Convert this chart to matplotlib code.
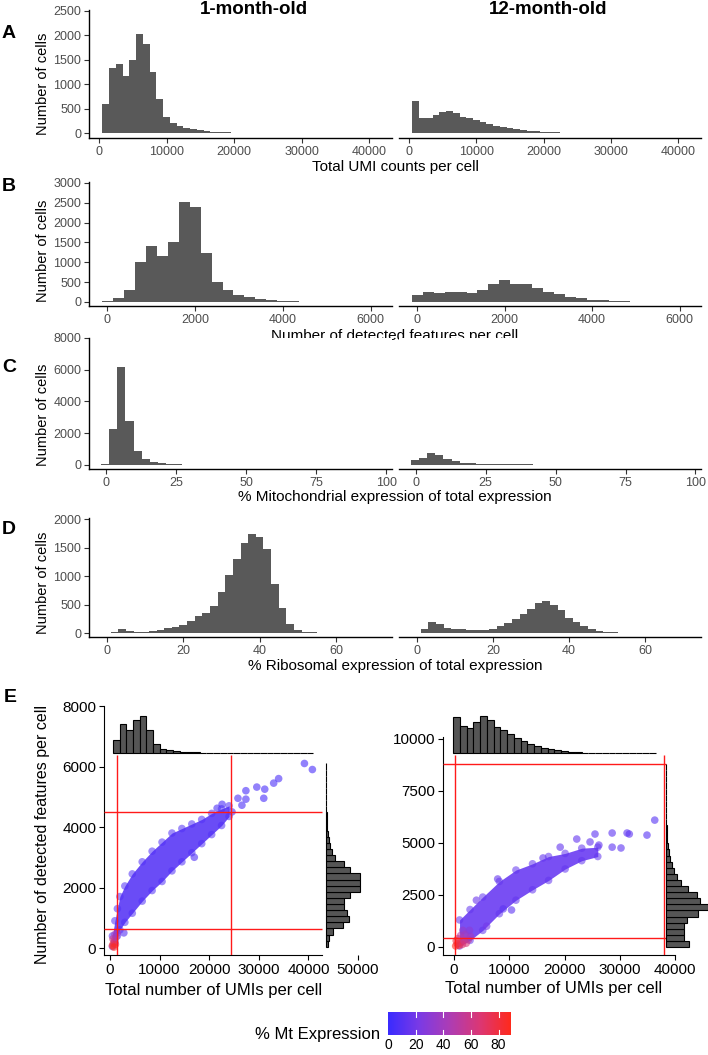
import numpy as np
import matplotlib
matplotlib.use('Agg')
import matplotlib.pyplot as plt
from matplotlib.colors import LinearSegmentedColormap, Normalize

plt.rcParams['font.family'] = ['Liberation Sans', 'DejaVu Sans']

W, H = 708, 1055

# ---------------- histogram counts (A-D) ----------------
# A: total UMI counts, binwidth 1000 starting at 500
umi_bw, umi_start = 1000, 500
umi_1m = [600, 1340, 1420, 1170, 1490, 2020, 1830, 1260, 690, 330, 200, 140, 110, 90,
          68, 48, 30, 20, 14, 10, 8, 6, 5, 4, 3, 3, 2, 2, 2, 2, 1, 1, 1, 1, 1, 1, 1, 1, 1, 1]
umi_12m = [660, 307, 307, 375, 423, 457, 410, 320, 307, 273, 225, 191, 150, 123, 96, 75,
           61, 48, 34, 24, 16, 11, 8, 6, 5, 4, 3, 2, 2, 2, 1, 1, 1, 1, 1, 1]

# B: detected features, binwidth 250 starting at -125
feat_bw, feat_start = 250, -125
feat_1m = [15, 110, 296, 1014, 1411, 1158, 1513, 2519, 2392, 1243, 507, 313, 186, 127,
           76, 42, 28, 18, 12, 9, 7, 6, 5, 4, 4, 3]
feat_12m = [169, 254, 228, 245, 245, 228, 313, 465, 550, 465, 465, 355, 254, 194, 127,
            110, 59, 42, 22, 14, 9, 7, 5, 4, 3, 3]

# C: % mitochondrial, binwidth 2.9 starting at -1.7
mt_bw, mt_start = 2.9, -1.7
mt_1m = [60, 2260, 6160, 2770, 880, 350, 165, 100, 60, 40, 30, 25, 20, 15, 12, 10, 8, 6,
         5, 5, 4, 4, 3, 3, 3, 2, 2, 2, 2, 1, 1, 1, 1, 1, 1]
mt_12m = [330, 420, 760, 640, 380, 230, 150, 110, 80, 60, 50, 45, 40, 35, 32, 30, 28, 26,
          24, 22, 20, 20, 18, 18, 17, 16, 15, 15, 14, 13, 12, 12, 11, 10, 10]

# D: % ribosomal, binwidth 2 starting at 1
ribo_bw, ribo_start = 2, 1
ribo_1m = [23, 64, 35, 18, 18, 29, 59, 88, 105, 146, 205, 293, 351, 469, 720, 1013, 1306,
           1582, 1746, 1687, 1482, 867, 445, 164, 59, 23, 10, 5, 3, 2]
ribo_12m = [76, 193, 152, 94, 64, 64, 47, 47, 53, 64, 117, 176, 252, 340, 428, 530, 557,
            486, 410, 270, 193, 129, 76, 35, 18, 10, 5]

# ---------------- panel E ----------------
# 1-month: dense band (lower / upper edge of the point cloud)
e1_band_umi = [500, 1000, 1500, 2000, 3000, 4500, 6500, 8500, 10500, 12500, 14500, 16500,
               18500, 20500, 22500, 24000]
e1_band_low = [50, 200, 400, 600, 850, 1150, 1550, 1900, 2200, 2550, 2850, 3150, 3450,
               3750, 4050, 4350]
e1_band_high = [400, 900, 1300, 1700, 2050, 2450, 2850, 3200, 3500, 3800, 3950, 4100,
                4250, 4450, 4600, 4700]
e1_pts_umi = [39200, 40800, 34000, 33000, 31200, 31000, 29600, 27400, 27400, 25800, 26600,
              24600, 22600, 21600, 17000, 2800, 500, 700, 900, 600, 1100, 800, 1200, 1500, 1000]
e1_pts_feat = [6100, 5900, 5600, 5450, 5250, 4950, 5320, 5200, 4920, 4950, 4720,
               4500, 4750, 4620, 3000, 500, 80, 150, 250, 300, 120, 30, 350, 500, 450]
e1_pts_mt = [5, 5, 6, 6, 5, 5, 6, 5, 6, 7, 6, 8, 6, 7, 8, 10, 85, 80, 70, 60, 75, 88, 50, 35, 40]
e1_top_counts = [1330, 2870, 2270, 3330, 3670, 2270, 930, 430, 270, 200, 130, 100, 70, 50,
                 40, 30, 25, 20, 15, 12, 10, 8, 7, 6, 5, 4, 3, 3, 2, 2]
e1_top_start, e1_top_bw = 600, 1347
e1_side_counts = [150, 300, 700, 1700, 2270, 2100, 1830, 1770, 2370, 3370, 3430, 3370, 2430,
                  1770, 930, 600, 430, 270, 170, 100, 70, 50, 40, 30, 30, 20, 20, 20, 20, 20]
e1_side_start, e1_side_bw = 40, 202
e1_cut_umi = [1400, 24400]
e1_cut_feat = [630, 4500]

# 12-month
e12_band_umi = [1000, 2900, 5200, 8200, 11200, 14200, 17100, 20100, 23100, 26000]
e12_band_low = [50, 320, 800, 1600, 2250, 2750, 3200, 3750, 4150, 4350]
e12_band_high = [1300, 1800, 2400, 3150, 3700, 4000, 4350, 4500, 4750, 4800]
e12_pts_umi = [36300, 34900, 31700, 31300, 28600, 25500, 22200, 28600, 30200, 26200, 24600,
               19200, 16100, 7900, 8900, 10400, 5900, 4050,
               300, 600, 900, 1200, 1500, 1800, 2200, 2600, 700, 1200, 400, 2000, 3000, 1600, 2800]
e12_pts_feat = [6100, 5380, 5430, 5480, 5480, 5430, 5190, 4800, 4760, 4900, 5050,
                4800, 4280, 3270, 1830, 1780, 1000, 2250,
                50, 150, 80, 200, 120, 300, 180, 350, 400, 550, 300, 600, 500, 800, 800]
e12_pts_mt = [10, 10, 12, 12, 12, 12, 14, 12, 12, 14, 14, 14, 14, 15, 12, 12, 20, 18,
              88, 85, 80, 75, 70, 60, 65, 55, 70, 50, 80, 45, 40, 35, 30]
e12_top_counts = [3600, 2670, 2530, 3100, 3670, 3330, 2600, 2270, 1930, 1530, 1200, 930, 730,
                  500, 370, 270, 170, 100, 60, 50, 40, 30, 30, 20, 20, 20, 20, 10, 10, 10]
e12_top_start, e12_top_bw = -180, 1223
e12_side_counts = [2300, 1830, 1830, 1830, 2070, 3230, 4170, 3400, 3070, 2230, 1470, 1070,
                   800, 570, 400, 330, 230, 130, 80, 60, 40, 30, 20, 20, 10, 10, 10, 10, 10, 10]
e12_side_start, e12_side_bw = 0, 293
e12_cut_umi = [100, 38000]
e12_cut_feat = [430, 8800]

mt_ticks = [0, 20, 40, 60, 80]

cmap = LinearSegmentedColormap.from_list(
    'mt', ['#3a2bff', '#7a3ae6', '#ad3db5', '#dc3774', '#ff2a1c'])
norm = Normalize(0, 89)

fig = plt.figure(figsize=(W / 100, H / 100), dpi=100)


def px_axes(x0, y0, x1, y1):
    return fig.add_axes([x0 / W, 1 - y1 / H, (x1 - x0) / W, (y1 - y0) / H])


def hist_pair(top, bot, ylim, yticks, xlim, xticks, bw, start, c1, c12,
              xlabel, xlab_y, ylab_y, letter, letter_y):
    for x0, x1, counts, left in [(89, 392, c1, True), (399, 701, c12, False)]:
        ax = px_axes(x0, top, x1, bot)
        edges = start + bw * np.arange(len(counts) + 1)
        ax.stairs(counts, edges, fill=True, color='#595959', lw=0)
        ax.set_xlim(*xlim)
        ax.set_ylim(*ylim)
        ax.set_xticks(xticks)
        ax.spines['top'].set_visible(False)
        ax.spines['right'].set_visible(False)
        ax.spines['bottom'].set_linewidth(1.0)
        ax.tick_params(colors='#333333', labelcolor='#4d4d4d', labelsize=9,
                       length=3.5, width=0.8, pad=2)
        if left:
            ax.set_yticks(yticks)
            ax.spines['left'].set_linewidth(1.0)
            axl = ax
        else:
            ax.spines['left'].set_visible(False)
            ax.set_yticks([])
    axl.text(395 / W, 1 - xlab_y / H, xlabel, transform=fig.transFigure,
             ha='center', va='center', fontsize=11)
    fig.text(43 / W, 1 - ylab_y / H, 'Number of cells', rotation=90,
             ha='center', va='center', fontsize=10.5)
    fig.text(9 / W, 1 - letter_y / H, letter, ha='center', va='center',
             fontsize=14, fontweight='bold')


hist_pair(10, 138, (-102, 2520), range(0, 2501, 500), (-1500, 43400),
          range(0, 40001, 10000), umi_bw, umi_start, umi_1m, umi_12m,
          'Total UMI counts per cell', 167, 84, 'A', 33)
hist_pair(182, 306, (-101, 3025), range(0, 3001, 500), (-420, 6490),
          [0, 2000, 4000, 6000], feat_bw, feat_start, feat_1m, feat_12m,
          'Number of detected features per cell', 336, 251, 'B', 187)
hist_pair(338, 469, (-252, 8000), range(0, 8001, 2000), (-6, 102),
          [0, 25, 50, 75, 100], mt_bw, mt_start, mt_1m, mt_12m,
          '% Mitochondrial expression of total expression', 497, 415, 'C', 368)
hist_pair(518, 637, (-70, 2018), range(0, 2001, 500), (-4.7, 74.7),
          [0, 20, 40, 60], ribo_bw, ribo_start, ribo_1m, ribo_12m,
          '% Ribosomal expression of total expression', 666, 583, 'D', 529)

fig.text(254 / W, 1 - 9 / H, '1-month-old', ha='center', va='center',
         fontsize=13.5, fontweight='bold')
fig.text(548 / W, 1 - 9 / H, '12-month-old', ha='center', va='center',
         fontsize=13.5, fontweight='bold')


def scatter_panel(box, xlim, ylim, xticks, yticks, spine_xmax, panel_xmax, panel_ymax,
                  band_x, band_lo, band_hi, band_col, edge_mt, px, py, pmt, cut_x, cut_y):
    ax = px_axes(*box)
    ax.patch.set_alpha(0)
    ax.fill_between(band_x, band_lo, band_hi, color=band_col, lw=0, alpha=0.9, zorder=1)
    ax.scatter(band_x + band_x, band_lo + band_hi, c=[edge_mt] * (2 * len(band_x)),
               cmap=cmap, norm=norm, s=30, alpha=0.55, lw=0, zorder=2)
    ax.scatter(px, py, c=pmt, cmap=cmap, norm=norm, s=30, alpha=0.6, lw=0, zorder=3)
    ax.vlines(cut_x, ylim[0], panel_ymax, color='#ff1a1a', lw=1.0, zorder=4)
    ax.hlines(cut_y, xlim[0], panel_xmax, color='#ff1a1a', lw=1.0, zorder=4)
    ax.set_xlim(*xlim)
    ax.set_ylim(*ylim)
    ax.set_xticks(xticks)
    ax.set_yticks(yticks)
    ax.spines['top'].set_visible(False)
    ax.spines['right'].set_visible(False)
    ax.spines['bottom'].set_bounds(xlim[0], spine_xmax)
    ax.tick_params(colors='black', labelsize=11, length=3.5, width=0.8, pad=2)
    return ax


def top_margin(x0, x1, xlim, start, bw, counts):
    ax = px_axes(x0, 712, x1, 753)
    edges = start + bw * np.arange(len(counts))
    ax.bar(edges, counts, width=bw, align='edge', color='#555555', edgecolor='black',
           lw=0.8, clip_on=False)
    ax.set_xlim(*xlim)
    ax.set_ylim(0, 4100)
    ax.axis('off')


def side_margin(x0, x1, y0, y1, ylim, start, bw, counts):
    ax = px_axes(x0, y0, x1, y1)
    edges = start + bw * np.arange(len(counts))
    ax.barh(edges, counts, height=bw, align='edge', color='#555555', edgecolor='black',
            lw=0.8, clip_on=False)
    ax.set_xlim(0, 4200)
    ax.set_ylim(*ylim)
    ax.axis('off')


xl1, yl1 = (-1200, 50400), (-231, 8000)
scatter_panel((104, 706, 360, 955), xl1, yl1, range(0, 50001, 10000), range(0, 8001, 2000),
              42800, 42800, 6380, e1_band_umi, e1_band_low, e1_band_high, '#5a38f6', 8,
              e1_pts_umi, e1_pts_feat, e1_pts_mt, e1_cut_umi, e1_cut_feat)
top_margin(104, 360, xl1, e1_top_start, e1_top_bw, e1_top_counts)
side_margin(326, 368, 706, 955, yl1, e1_side_start, e1_side_bw, e1_side_counts)

xl2, yl2 = (-1990, 45390), (-385, 10096)
scatter_panel((443, 737, 705, 955), xl2, yl2, range(0, 40001, 10000), range(0, 10001, 2500),
              40000, 38340, 9230, e12_band_umi, e12_band_low, e12_band_high, '#6a3cf2', 14,
              e12_pts_umi, e12_pts_feat, e12_pts_mt, e12_cut_umi, e12_cut_feat)
top_margin(443, 705, xl2, e12_top_start, e12_top_bw, e12_top_counts)
side_margin(666, 708, 737, 955, yl2, e12_side_start, e12_side_bw, e12_side_counts)

fig.text(10 / W, 1 - 697 / H, 'E', ha='center', va='center', fontsize=14, fontweight='bold')
fig.text(43 / W, 1 - 835 / H, 'Number of detected features per cell', rotation=90,
         ha='center', va='center', fontsize=11.5)
fig.text(214 / W, 1 - 990 / H, 'Total number of UMIs per cell', ha='center', va='center',
         fontsize=12)
fig.text(554 / W, 1 - 989 / H, 'Total number of UMIs per cell', ha='center', va='center',
         fontsize=12)

# colour bar
cax = px_axes(388, 1012, 511, 1035)
grad = np.linspace(0, 89, 256).reshape(1, -1)
cax.imshow(grad, cmap=cmap, norm=norm, aspect='auto', extent=[0, 89, 0, 1])
for v in mt_ticks[1:]:
    cax.plot([v, v], [0, 0.2], color='white', lw=0.8)
    cax.plot([v, v], [0.8, 1], color='white', lw=0.8)
cax.set_xlim(0, 89)
cax.set_ylim(0, 1)
cax.set_xticks(mt_ticks)
cax.set_yticks([])
for s in cax.spines.values():
    s.set_visible(False)
cax.tick_params(length=0, labelsize=10, pad=2)
fig.text(380 / W, 1 - 1034 / H, '% Mt Expression', ha='right', va='center', fontsize=12)

fig.savefig('out.png', dpi=100)
